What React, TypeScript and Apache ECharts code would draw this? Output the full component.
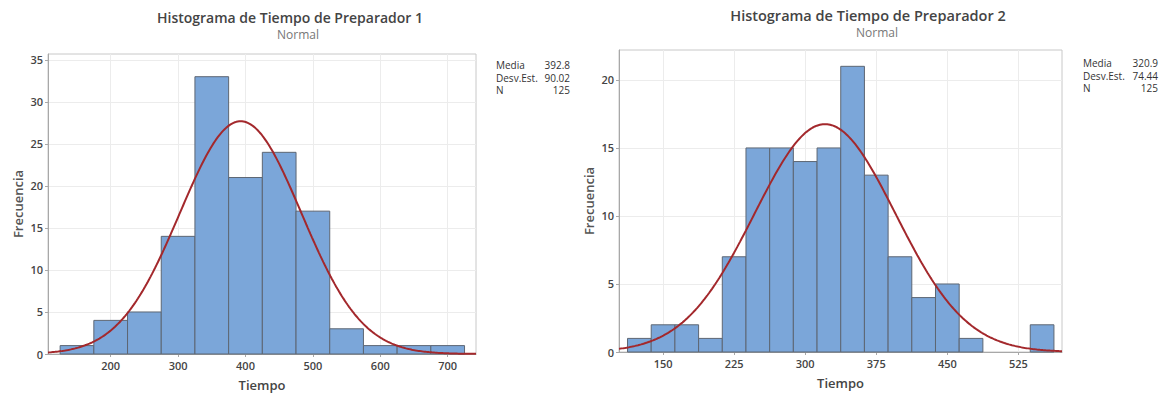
import React, { useEffect, useRef } from "react";
import * as echarts from "echarts";

// ---------- data ----------
const P1_TITLE = "Histograma de Tiempo de Preparador 1";
const P1_BIN_CENTERS = [150, 200, 250, 300, 350, 400, 450, 500, 550, 600, 650, 700];
const P1_COUNTS = [1, 4, 5, 14, 33, 21, 24, 17, 3, 1, 1, 1];
const P1_BIN_WIDTH = 50;
const P1_MEAN = 392.8;
const P1_SD = 90.02;
const P1_N = 125;
const P1_X_TICKS = [200, 300, 400, 500, 600, 700];
const P1_Y_TICKS = [0, 5, 10, 15, 20, 25, 30, 35];
const P1_X_RANGE = [107, 742];
const P1_Y_MAX = 35.7;

const P2_TITLE = "Histograma de Tiempo de Preparador 2";
const P2_BIN_CENTERS = [125, 150, 175, 200, 225, 250, 275, 300, 325, 350, 375, 400, 425, 450, 475, 500, 525, 550];
const P2_COUNTS = [1, 2, 2, 1, 7, 15, 15, 14, 15, 21, 13, 7, 4, 5, 1, 0, 0, 2];
const P2_BIN_WIDTH = 25;
const P2_MEAN = 320.9;
const P2_SD = 74.44;
const P2_N = 125;
const P2_X_TICKS = [150, 225, 300, 375, 450, 525];
const P2_Y_TICKS = [0, 5, 10, 15, 20];
const P2_X_RANGE = [103.5, 571];
const P2_Y_MAX = 22.2;

// ---------- helpers ----------
const bins = (centers: number[], counts: number[], w: number) =>
  centers.map((c, i) => [c - w / 2, c + w / 2, counts[i]]);

// fitted normal curve scaled to the histogram (N * bin width * pdf)
const normalCurve = (mean: number, sd: number, n: number, w: number, range: number[]) => {
  const pts: number[][] = [];
  const steps = 300;
  for (let i = 0; i <= steps; i++) {
    const x = range[0] + ((range[1] - range[0]) * i) / steps;
    const z = (x - mean) / sd;
    pts.push([x, (n * w * Math.exp(-0.5 * z * z)) / (sd * Math.sqrt(2 * Math.PI))]);
  }
  return pts;
};

const FONT = "'Open Sans', 'Noto Sans', sans-serif";
const BAR_FILL = "#7ba6d9";
const BAR_STROKE = "#5d6673";
const CURVE = "#a3282c";

const renderBar = (params: any, api: any) => {
  const x0 = api.value(0);
  const x1 = api.value(1);
  const c = api.value(2);
  if (!c) return null;
  const p0 = api.coord([x0, c]);
  const p1 = api.coord([x1, 0]);
  return {
    type: "rect",
    shape: { x: p0[0], y: p0[1], width: p1[0] - p0[0], height: p1[1] - p0[1] },
    style: { fill: BAR_FILL, stroke: BAR_STROKE, lineWidth: 1 },
  };
};

const xAxisCfg = (gridIndex: number, range: number[], ticks: number[]) => ({
  type: "value",
  gridIndex,
  min: range[0],
  max: range[1],
  name: "Tiempo",
  nameLocation: "middle",
  nameGap: 24,
  nameTextStyle: { fontFamily: FONT, fontSize: 13, fontWeight: 600, color: "#444" },
  axisLine: { show: true, onZero: false, lineStyle: { color: "#a8a8a8", width: 1 } },
  axisTick: { show: true, length: 3, customValues: ticks, lineStyle: { color: "#a8a8a8" } },
  axisLabel: {
    customValues: ticks,
    fontFamily: FONT,
    fontSize: 11,
    fontWeight: 600,
    color: "#444",
    margin: 6,
  },
  splitLine: { show: true, lineStyle: { color: "#ececec", width: 1 } },
});

const yAxisCfg = (gridIndex: number, max: number, ticks: number[]) => ({
  type: "value",
  gridIndex,
  min: 0,
  max,
  name: "Frecuencia",
  nameLocation: "middle",
  nameRotate: 90,
  nameGap: 24,
  nameTextStyle: { fontFamily: FONT, fontSize: 13, fontWeight: 600, color: "#555" },
  axisLine: { show: true, lineStyle: { color: "#a8a8a8", width: 1 } },
  axisTick: { show: true, length: 3, customValues: ticks, lineStyle: { color: "#a8a8a8" } },
  axisLabel: {
    customValues: ticks,
    fontFamily: FONT,
    fontSize: 11,
    fontWeight: 600,
    color: "#444",
    margin: 5,
  },
  splitLine: { show: true, lineStyle: { color: "#ececec", width: 1 } },
});

const statTexts = (xl: number, xr: number, y0: number, mean: number, sd: number, n: number) => {
  const labels = ["Media", "Desv.Est.", "N"];
  const values = [mean.toFixed(1), sd.toFixed(2), String(n)];
  const out: any[] = [];
  labels.forEach((l, i) => {
    out.push({
      type: "text",
      x: xl,
      y: y0 + i * 12.5,
      style: { text: l, fontFamily: FONT, fontSize: 10, fill: "#333", align: "left", verticalAlign: "middle" },
    });
    out.push({
      type: "text",
      x: xr,
      y: y0 + i * 12.5,
      style: { text: values[i], fontFamily: FONT, fontSize: 10, fill: "#333", align: "right", verticalAlign: "middle" },
    });
  });
  return out;
};

const titleTexts = (title: string, tx: number, ty: number, sx: number, sy: number, size: number) => [
  {
    type: "text",
    x: tx,
    y: ty,
    style: { text: title, fontFamily: FONT, fontSize: size, fontWeight: 600, fill: "#444", align: "center", verticalAlign: "middle" },
  },
  {
    type: "text",
    x: sx,
    y: sy,
    style: { text: "Normal", fontFamily: FONT, fontSize: 12, fill: "#777", align: "center", verticalAlign: "middle" },
  },
];

export default function App() {
  const ref = useRef<HTMLDivElement>(null);
  useEffect(() => {
    document.body.style.margin = "0";
    if (!ref.current) return;
    const chart = echarts.init(ref.current, null, { renderer: "svg" });
    chart.setOption({
      animation: false,
      backgroundColor: "#ffffff",
      grid: [
        { left: 48, top: 54, width: 428, height: 303, show: true, borderColor: "#c8c8c8", borderWidth: 1, backgroundColor: "#fff" },
        { left: 619, top: 50, width: 443, height: 302, show: true, borderColor: "#c8c8c8", borderWidth: 1, backgroundColor: "#fff" },
      ],
      xAxis: [xAxisCfg(0, P1_X_RANGE, P1_X_TICKS), xAxisCfg(1, P2_X_RANGE, P2_X_TICKS)],
      yAxis: [yAxisCfg(0, P1_Y_MAX, P1_Y_TICKS), yAxisCfg(1, P2_Y_MAX, P2_Y_TICKS)],
      series: [
        {
          type: "custom",
          xAxisIndex: 0,
          yAxisIndex: 0,
          renderItem: renderBar,
          encode: { x: [0, 1], y: 2 },
          data: bins(P1_BIN_CENTERS, P1_COUNTS, P1_BIN_WIDTH),
          z: 2,
        },
        {
          type: "line",
          xAxisIndex: 0,
          yAxisIndex: 0,
          showSymbol: false,
          clip: true,
          data: normalCurve(P1_MEAN, P1_SD, P1_N, P1_BIN_WIDTH, P1_X_RANGE),
          lineStyle: { color: CURVE, width: 2 },
          z: 3,
        },
        {
          type: "custom",
          xAxisIndex: 1,
          yAxisIndex: 1,
          renderItem: renderBar,
          encode: { x: [0, 1], y: 2 },
          data: bins(P2_BIN_CENTERS, P2_COUNTS, P2_BIN_WIDTH),
          z: 2,
        },
        {
          type: "line",
          xAxisIndex: 1,
          yAxisIndex: 1,
          showSymbol: false,
          clip: true,
          data: normalCurve(P2_MEAN, P2_SD, P2_N, P2_BIN_WIDTH, P2_X_RANGE),
          lineStyle: { color: CURVE, width: 2 },
          z: 3,
        },
      ],
      graphic: [
        ...titleTexts(P1_TITLE, 290, 17, 298, 34, 14),
        ...titleTexts(P2_TITLE, 868, 15, 877, 32, 14.5),
        ...statTexts(496, 570, 65, P1_MEAN, P1_SD, P1_N),
        ...statTexts(1083, 1158, 63, P2_MEAN, P2_SD, P2_N),
      ],
    });
    return () => chart.dispose();
  }, []);
  return <div ref={ref} style={{ width: 1165, height: 396 }} />;
}
